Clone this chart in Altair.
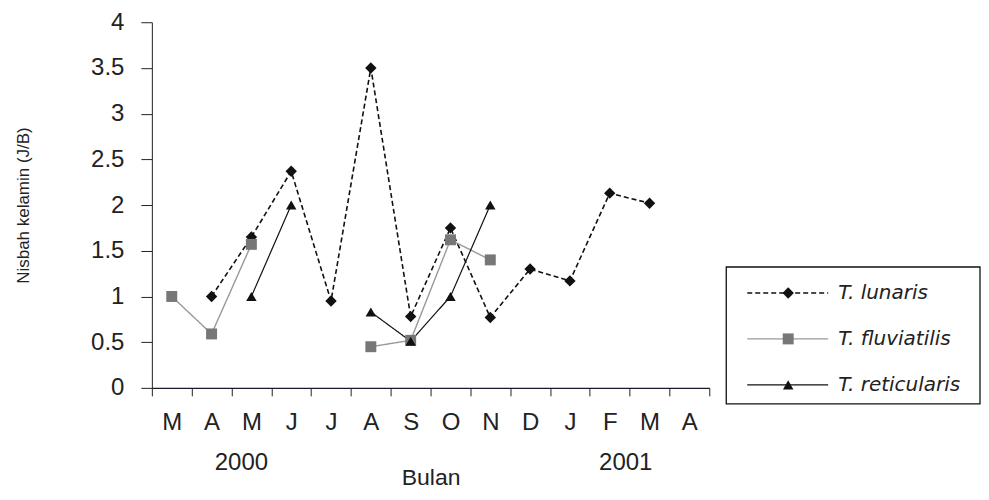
import altair as alt
import pandas as pd

months = ["M", "A", "M", "J", "J", "A", "S", "O", "N", "D", "J", "F", "M", "A"]
keys = [f"{i:02d}|{m}" for i, m in enumerate(months)]
species = ["T. lunaris", "T. fluviatilis", "T. reticularis"]
lunaris = [None, 1.0, 1.65, 2.37, 0.95, 3.5, 0.78, 1.75, 0.77, 1.30, 1.17, 2.13, 2.02, None]
fluviatilis = [1.0, 0.59, 1.57, None, None, 0.45, 0.52, 1.62, 1.40, None, None, None, None, None]
reticularis = [None, None, 1.0, 2.0, None, 0.83, 0.51, 1.0, 2.0, None, None, None, None, None]
years = ["2000", "2001"]
year_keys = [keys[2], keys[11]]

rows = []
for name, vals in zip(species, [lunaris, fluviatilis, reticularis]):
    seg = 0
    for k, v in zip(keys, vals):
        if v is None:
            seg += 1
            continue
        rows.append({"species": name, "key": k, "value": v, "seg": f"{name}-{seg}"})
df = pd.DataFrame(rows)
ydf = pd.DataFrame({"year": years, "key": year_keys})
ldf = pd.DataFrame({"species": species})

FONT = "Liberation Sans"
LFONT = "DejaVu Sans"
TXT = "#222222"

color_s = alt.Scale(domain=species, range=["#111111", "#999999", "#111111"])
fill_s = alt.Scale(domain=species, range=["#111111", "#777777", "#111111"])
dash_s = alt.Scale(domain=species, range=[[5, 3], [1, 0], [1, 0]])
width_s = alt.Scale(domain=species, range=[1.6, 1.2, 1.8])
shape_s = alt.Scale(domain=species, range=["diamond", "square", "triangle-up"])
size_s = alt.Scale(domain=species, range=[130, 110, 150])

xscale = alt.Scale(domain=keys, type="band", paddingInner=0, paddingOuter=0)
x_enc = alt.X(
    "key:O",
    scale=xscale,
    bandPosition=0.5,
    sort=keys,
    axis=alt.Axis(
        title="Bulan",
        labelExpr="split(datum.label, '|')[1]",
        labelAngle=0,
        tickBand="extent",
        tickSize=8,
        tickColor="#222",
        domainColor="#1a1a2e",
        domainWidth=1.3,
        labelFontSize=24,
        labelPadding=15,
        labelColor=TXT,
        labelFont=FONT,
        titleFont=FONT,
        titleFontSize=23,
        titleFontWeight="normal",
        titleColor=TXT,
        titlePadding=32,
        titleX=279,
        grid=False,
    ),
)
y_enc = alt.Y(
    "value:Q",
    scale=alt.Scale(domain=[0, 4]),
    axis=alt.Axis(
        title="Nisbah kelamin (J/B)",
        values=[0, 0.5, 1, 1.5, 2, 2.5, 3, 3.5, 4],
        labelExpr="'' + datum.value",
        tickSize=11,
        tickColor="#222",
        domainColor="#222",
        labelFontSize=24,
        labelPadding=17,
        labelColor=TXT,
        labelFont=FONT,
        titleFont=FONT,
        titleFontSize=17,
        titleFontWeight="normal",
        titleColor=TXT,
        titlePadding=58,
        grid=False,
    ),
)

base = alt.Chart(df)
lines = base.mark_line().encode(
    x=x_enc,
    y=y_enc,
    detail="seg:N",
    color=alt.Color("species:N", scale=color_s, legend=None),
    strokeDash=alt.StrokeDash("species:N", scale=dash_s, legend=None),
    strokeWidth=alt.StrokeWidth("species:N", scale=width_s, legend=None),
)
points = base.mark_point(filled=True, opacity=1).encode(
    x=alt.X("key:O", scale=xscale, bandPosition=0.5, sort=keys),
    y=alt.Y("value:Q"),
    shape=alt.Shape("species:N", scale=shape_s, legend=None),
    fill=alt.Fill("species:N", scale=fill_s, legend=None),
    size=alt.Size("species:N", scale=size_s, legend=None),
)
year_text = alt.layer(
    alt.Chart(ydf).transform_filter(alt.datum.year == years[0]).mark_text(
        font=FONT, fontSize=24, color=TXT, baseline="middle", dx=-10
    ).encode(x=alt.X("key:O", scale=xscale, bandPosition=0.5, sort=keys), y=alt.value(441), text="year:N"),
    alt.Chart(ydf).transform_filter(alt.datum.year == years[1]).mark_text(
        font=FONT, fontSize=24, color=TXT, baseline="middle", dx=16
    ).encode(x=alt.X("key:O", scale=xscale, bandPosition=0.5, sort=keys), y=alt.value(441), text="year:N"),
)
main = alt.layer(lines, points, year_text).properties(width=558, height=366)

# custom legend panel
ly = alt.Y("species:N", scale=alt.Scale(domain=species, type="point", range=[271, 363], padding=0), axis=None)
box = alt.Chart(pd.DataFrame({"species": species[:1]})).mark_rect(
    fill="white", stroke="#111", strokeWidth=1.3
).encode(x=alt.value(0), x2=alt.value(254), y=alt.value(245), y2=alt.value(382))
lrules = alt.Chart(ldf).mark_rule().encode(
    x=alt.value(21), x2=alt.value(102), y=ly,
    color=alt.Color("species:N", scale=color_s, legend=None),
    strokeDash=alt.StrokeDash("species:N", scale=dash_s, legend=None),
    strokeWidth=alt.StrokeWidth("species:N", scale=width_s, legend=None),
)
lpoints = alt.Chart(ldf).mark_point(filled=True, opacity=1).encode(
    x=alt.value(62), y=ly,
    shape=alt.Shape("species:N", scale=shape_s, legend=None),
    fill=alt.Fill("species:N", scale=fill_s, legend=None),
    size=alt.Size("species:N", scale=size_s, legend=None),
)
ltext = alt.Chart(ldf).mark_text(
    font=LFONT, fontSize=20, fontStyle="italic", color=TXT, align="left", baseline="middle"
).encode(x=alt.value(112), y=ly, text="species:N")
legend = alt.layer(box, lrules, lpoints, ltext).properties(width=255, height=382)

chart = alt.hconcat(main, legend, spacing=15).properties(
    padding={"left": 6, "top": 2, "right": 0, "bottom": 0}
).configure(font=FONT).configure_view(stroke=None)

chart.save("out.html", embed_options={"renderer": "svg", "actions": False})
